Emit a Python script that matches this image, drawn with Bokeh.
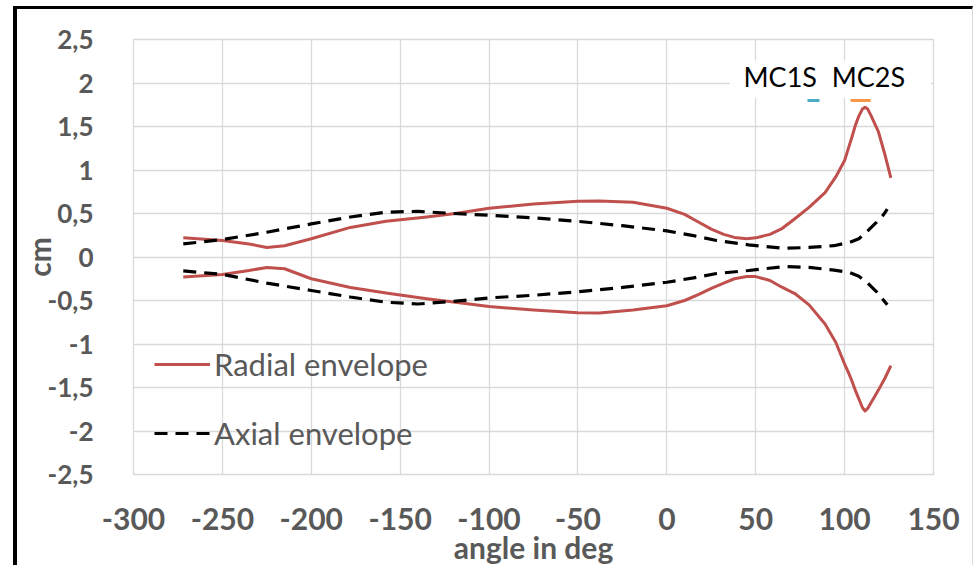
from bokeh.plotting import figure
from bokeh.models import (Range1d, FixedTicker, Legend, LegendItem, BoxAnnotation,
                          ColumnDataSource)
from bokeh.embed import file_html
from bokeh.resources import INLINE
from bokeh.core.properties import value

# ---------------- data ----------------
radial_angle = [-272, -250, -235, -225, -215, -200, -178, -158, -135, -119, -100, -75,
                -50, -38, -19, 0, 10, 18, 25, 32, 38, 45, 50, 58, 65, 72, 80, 89, 95,
                100, 102, 104, 106, 108, 110, 111.5, 113, 115, 117, 119, 122.5, 126]
radial_upper = [0.22, 0.19, 0.15, 0.11, 0.13, 0.21, 0.34, 0.41, 0.46, 0.50, 0.56, 0.61,
                0.64, 0.645, 0.63, 0.56, 0.49, 0.40, 0.32, 0.26, 0.225, 0.21, 0.22, 0.26,
                0.33, 0.44, 0.57, 0.74, 0.92, 1.11, 1.24, 1.37, 1.51, 1.62, 1.70, 1.72,
                1.70, 1.62, 1.53, 1.44, 1.19, 0.91]
radial_lower = [-0.23, -0.20, -0.155, -0.12, -0.135, -0.25, -0.35, -0.415, -0.48, -0.52,
                -0.57, -0.61, -0.64, -0.645, -0.61, -0.56, -0.50, -0.43, -0.36, -0.30,
                -0.25, -0.225, -0.225, -0.27, -0.35, -0.42, -0.55, -0.77, -0.98, -1.23,
                -1.32, -1.42, -1.53, -1.63, -1.73, -1.77, -1.74, -1.67, -1.60, -1.53,
                -1.40, -1.25]

axial_angle = [-272, -250, -225, -200, -178, -158, -140, -120, -100, -75, -50, -25, 0,
               15, 28, 46, 66, 80, 94, 103, 108, 113, 118, 122, 124]
axial_upper = [0.15, 0.20, 0.285, 0.38, 0.46, 0.515, 0.525, 0.50, 0.48, 0.45, 0.41, 0.36,
               0.30, 0.245, 0.19, 0.14, 0.10, 0.11, 0.13, 0.17, 0.21, 0.30, 0.40, 0.49, 0.55]
axial_lower = [-0.16, -0.20, -0.30, -0.385, -0.46, -0.52, -0.54, -0.51, -0.47, -0.44,
               -0.40, -0.35, -0.29, -0.24, -0.19, -0.155, -0.11, -0.12, -0.15, -0.18,
               -0.22, -0.30, -0.40, -0.50, -0.55]

mc_names = ["MC1S", "MC2S"]
mc_x = [82.5, 109.0]
mc_y = [1.8, 1.8]
mc_label_x = [63.8, 113.4]
mc_label_y = [2.07, 2.07]

x_ticks = [-300, -250, -200, -150, -100, -50, 0, 50, 100, 150]
x_tick_labels = ["-300", "-250", "-200", "-150", "-100", "-50", "0", "50", "100", "150"]
y_ticks = [-2.5, -2, -1.5, -1, -0.5, 0, 0.5, 1, 1.5, 2, 2.5]
y_tick_labels = ["-2,5", "-2", "-1,5", "-1", "-0,5", "0", "0,5", "1", "1,5", "2", "2,5"]

# ---------------- styles ----------------
RED = "#C0504D"
GRAY_TXT = "#595959"
GRID = "#D9D9D9"
FONT = "Lato"

p = figure(width=960, height=559, output_backend="svg", toolbar_location=None,
           x_range=Range1d(-300, 150), y_range=Range1d(-2.5, 2.5),
           min_border_left=108, min_border_right=44, min_border_top=30,
           min_border_bottom=94)
p.styles = {"margin-left": "13px", "margin-top": "6px",
            "border-left": "4px solid #000", "border-top": "3px solid #000",
            "border-right": "1px solid #d9d9d9"}
p.outline_line_color = GRID
p.outline_line_width = 1.3
p.background_fill_color = "white"
p.border_fill_color = "white"

for ax in (p.xaxis[0], p.yaxis[0]):
    ax.axis_line_color = None
    ax.major_tick_line_color = None
    ax.minor_tick_line_color = None
    ax.major_label_text_font = FONT
    ax.major_label_text_font_style = "bold"
    ax.major_label_text_color = GRAY_TXT
    ax.axis_label_text_font = FONT
    ax.axis_label_text_font_style = "bold"
    ax.axis_label_text_color = GRAY_TXT
    ax.axis_label_text_font_size = "30px"

p.xaxis.ticker = FixedTicker(ticks=x_ticks)
p.yaxis.ticker = FixedTicker(ticks=y_ticks)
p.xaxis.major_label_overrides = {t: l for t, l in zip(x_ticks, x_tick_labels)}
p.yaxis.major_label_overrides = {t: l for t, l in zip(y_ticks, y_tick_labels)}
p.xaxis.major_label_text_font_size = "30px"
p.yaxis.major_label_text_font_size = "26px"
p.xaxis.major_label_standoff = 27
p.yaxis.major_label_standoff = 34
p.xaxis.axis_label = "angle in deg"
p.yaxis.axis_label = "cm"
p.xaxis.axis_label_standoff = -4
p.yaxis.axis_label_standoff = -12

p.xgrid.grid_line_color = GRID
p.ygrid.grid_line_color = GRID
p.xgrid.grid_line_width = 1.3
p.ygrid.grid_line_width = 1.3

# white box behind the MC labels (hides grid lines there)
box = BoxAnnotation(left=35.4, right=148.5, bottom=1.83, top=2.26,
                    fill_color="white", fill_alpha=1.0, line_color=None,
                    level="underlay")
p.add_layout(box)

r_up = p.line(radial_angle, radial_upper, line_color=RED, line_width=3,
              line_join="round")
p.line(radial_angle, radial_lower, line_color=RED, line_width=3, line_join="round")
a_up = p.line(axial_angle, axial_upper, line_color="black", line_width=3.2,
              line_dash="13 8")
p.line(axial_angle, axial_lower, line_color="black", line_width=3.2, line_dash="13 8")

mc_src = ColumnDataSource(dict(x=mc_x, y=mc_y, size=[12, 20],
                               color=["#4BACC6", "#F79646"]))
p.scatter("x", "y", source=mc_src, marker="dash", size="size",
          line_color="color", line_width=3)

p.text(x=mc_label_x, y=mc_label_y, text=mc_names, text_font=value(FONT),
       text_font_size="27px", text_color="black", text_align="center",
       text_baseline="middle")

legend = Legend(items=[LegendItem(label="Radial envelope", renderers=[r_up]),
                       LegendItem(label="Axial envelope", renderers=[a_up])],
                location=(21, 22), orientation="vertical")
legend.background_fill_alpha = 0
legend.border_line_alpha = 0
legend.label_text_font = FONT
legend.label_text_font_size = "31px"
legend.label_text_color = GRAY_TXT
legend.glyph_width = 56
legend.glyph_height = 30
legend.label_standoff = 4
legend.spacing = 31
legend.padding = 0
legend.margin = 0
p.add_layout(legend)

open("out.html", "w").write(file_html(p, INLINE))
